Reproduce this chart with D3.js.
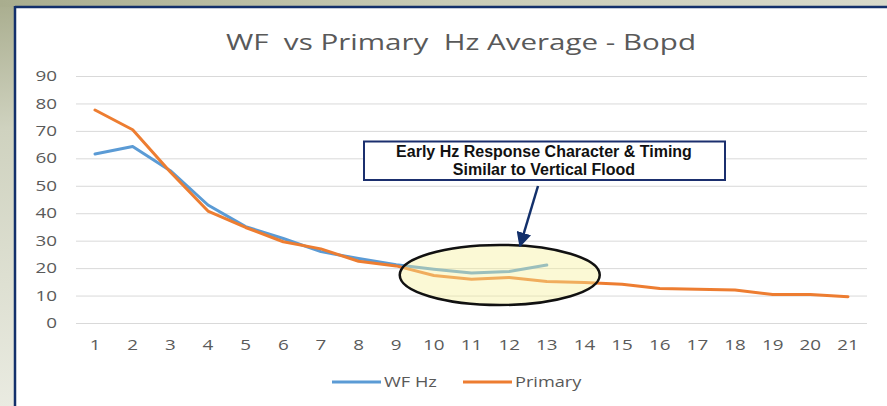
<!DOCTYPE html>
<html><head><meta charset="utf-8">
<script src="https://cdn.jsdelivr.net/npm/d3@7/dist/d3.min.js"></script>
<style>
html,body{margin:0;padding:0;overflow:hidden;background:#fff;}
</style></head>
<body><svg id="c" width="887" height="406"></svg>
<script>
const categories = d3.range(1, 22).map(String);
const wfHz =    [61.6, 64.3, 55.5, 43.0, 35.1, 30.8, 26.0, 23.5, 21.2, 19.6, 18.2, 18.8, 21.1];
const primary = [77.6, 70.4, 55.0, 40.8, 34.8, 29.6, 27.0, 22.5, 20.8, 17.3, 15.9, 16.6, 15.1, 14.8, 14.1, 12.6, 12.3, 12.0, 10.4, 10.4, 9.6];
const yTicks = [0, 10, 20, 30, 40, 50, 60, 70, 80, 90];
const titleText = "WF  vs Primary  Hz Average - Bopd";
const annotationLines = ["Early Hz Response Character & Timing", "Similar to Vertical Flood"];
const seriesNames = ["WF Hz", "Primary"];
const seriesColors = ["#5b9bd5", "#ed7d31"];

const svg = d3.select("#c");
const defs = svg.append("defs");
const bg = defs.append("linearGradient").attr("id","bg").attr("x1","0").attr("y1","0").attr("x2","0.25").attr("y2","1");
bg.append("stop").attr("offset","0").attr("stop-color","#a9ad8e");
bg.append("stop").attr("offset","0.3").attr("stop-color","#cfd2bf");
bg.append("stop").attr("offset","1").attr("stop-color","#ecede4");
const bgTop = defs.append("linearGradient").attr("id","bgTop").attr("x1","0").attr("y1","0").attr("x2","1").attr("y2","0");
bgTop.append("stop").attr("offset","0").attr("stop-color","#a9ad8e");
bgTop.append("stop").attr("offset","0.5").attr("stop-color","#c9ccb6");
bgTop.append("stop").attr("offset","1").attr("stop-color","#d8dacb");

// background frame
svg.append("rect").attr("x",0).attr("y",0).attr("width",887).attr("height",406).attr("fill","url(#bg)");
svg.append("rect").attr("x",0).attr("y",0).attr("width",887).attr("height",7).attr("fill","url(#bgTop)");
svg.append("rect").attr("x",15).attr("y",7).attr("width",872).attr("height",399).attr("fill","#fff");
svg.append("line").attr("x1",15).attr("x2",887).attr("y1",7).attr("y2",7).attr("stroke","#13306b").attr("stroke-width",2.5);
svg.append("line").attr("x1",15).attr("x2",15).attr("y1",6).attr("y2",406).attr("stroke","#13306b").attr("stroke-width",2.5);

const x = d3.scaleBand().domain(categories).range([76.2, 866.8]);
const y = d3.scaleLinear().domain([0, 90]).range([323, 76]);

// gridlines
svg.append("g").selectAll("line").data(yTicks).join("line")
  .attr("x1",76).attr("x2",867).attr("y1",d=>y(d)+0.5).attr("y2",d=>y(d)+0.5)
  .attr("stroke","#d9d9d9").attr("stroke-width",1);

// y axis labels
const yAxis = svg.append("g").attr("transform","translate(57,0)")
  .call(d3.axisLeft(y).tickValues(yTicks).tickSize(0).tickPadding(0));
yAxis.select(".domain").remove();
yAxis.selectAll("text").style("font-family","Open Sans").style("font-size","14.5px").attr("fill","#5a5a5a")
  .attr("transform","scale(1.3,1)");

// x axis labels
const xAxis = svg.append("g").attr("transform","translate(0,340)")
  .call(d3.axisBottom(x).tickSize(0).tickPadding(0));
xAxis.select(".domain").remove();
xAxis.selectAll("text").style("font-family","Open Sans").style("font-size","14.5px").attr("fill","#5a5a5a")
  .attr("transform","scale(1.3,1)");

// lines
const line = d3.line().x((d,i)=>x(categories[i])+x.bandwidth()/2).y(d=>y(d));
[wfHz, primary].forEach((s,i)=>{
  svg.append("path").datum(s).attr("d",line).attr("fill","none")
    .attr("stroke",seriesColors[i]).attr("stroke-width",3).attr("stroke-linejoin","round").attr("stroke-linecap","round");
});

// title
svg.append("text").attr("x",461).attr("y",50).attr("text-anchor","middle")
  .style("font-family","Open Sans").attr("font-size",22).attr("fill","#595959").style("white-space","pre")
  .attr("textLength",470).attr("lengthAdjust","spacingAndGlyphs")
  .text(titleText);

// ellipse highlight
const ecx = x("12") + x.bandwidth()/2 - x.step()*0.25;
svg.append("ellipse").attr("cx",ecx).attr("cy",y(17.5)).attr("rx",100).attr("ry",30)
  .attr("fill","#f5f19a").attr("fill-opacity",0.42).attr("stroke","#111").attr("stroke-width",2.5);

// annotation box
svg.append("rect").attr("x",364).attr("y",141.5).attr("width",361).attr("height",38.5)
  .attr("fill","#fff").attr("stroke","#1b2f6e").attr("stroke-width",2);
annotationLines.forEach((t,i)=>{
  svg.append("text").attr("x",544).attr("y",157+i*18).attr("text-anchor","middle")
    .style("font-family","Liberation Sans").attr("font-weight","bold").attr("font-size",16).attr("fill","#111")
    .text(t);
});

// arrow
defs.append("marker").attr("id","ah").attr("viewBox","0 0 10 10").attr("refX",9).attr("refY",5)
  .attr("markerWidth",6).attr("markerHeight",6).attr("orient","auto").attr("markerUnits","strokeWidth")
  .append("path").attr("d","M0,0 L10,5 L0,10 z").attr("fill","#13306b");
svg.append("line").attr("x1",538).attr("y1",186).attr("x2",520).attr("y2",246)
  .attr("stroke","#13306b").attr("stroke-width",2.5).attr("marker-end","url(#ah)");

// legend
const legX = [332, 463];
seriesNames.forEach((n,i)=>{
  svg.append("line").attr("x1",legX[i]).attr("x2",legX[i]+49).attr("y1",382).attr("y2",382)
    .attr("stroke",seriesColors[i]).attr("stroke-width",3);
  svg.append("text").attr("x",(legX[i]+52)/1.3).attr("y",387).attr("transform","scale(1.3,1)")
    .style("font-family","Open Sans").attr("font-size",14).attr("fill","#595959")
    .text(n);
});
</script></body></html>
